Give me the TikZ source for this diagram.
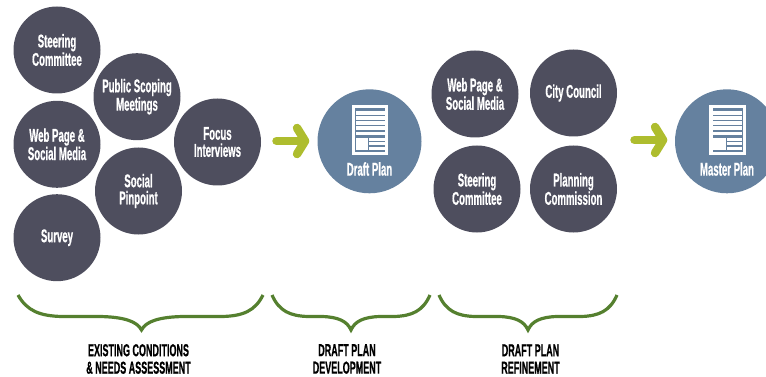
\documentclass[tikz,border=0pt]{standalone}
\usepackage{fontspec}
\setmainfont[FakeStretch=0.52,BoldFont={Liberation Sans Bold},BoldFeatures={FakeBold=0.6}]{Liberation Sans}
\usetikzlibrary{arrows.meta}
\definecolor{slatec}{HTML}{4E4E5E}
\definecolor{bluec}{HTML}{65819F}
\definecolor{limec}{HTML}{AEBD2E}
\definecolor{bracec}{HTML}{55802F}
\tikzset{
  x=1pt,y=-1pt,
  blob/.style={circle,fill=slatec,minimum size=87pt,inner sep=0pt,align=center,text=white,
    font=\fontsize{18.5}{17}\selectfont\bfseries},
  planblob/.style={circle,fill=bluec,minimum size=104pt,inner sep=0pt},
  planlabel/.style={text=white,inner sep=0pt,font=\fontsize{18.5}{17}\selectfont\bfseries},
  caplabel/.style={align=center,inner sep=0pt,text=black,font=\fontsize{17.3}{17.5}\selectfont\bfseries},
  flow/.style={draw=limec,line width=8.5pt,line cap=round,-{Straight Barb[round,length=8pt,width=26pt]}},
  bracket/.style={draw=bracec,line width=3.2pt,fill=none},
}
\newcommand{\docicon}[2]{%
  \begin{scope}[shift={(#1,#2)}]
    \fill[white] (-18.1,-25.7) rectangle (18.5,24.3);
    \fill[bluec] (-14.8,-22.4) rectangle (15.2,21.6);
    \fill[white] (-14.1,-19.7) rectangle (14.7,-15.7);
    \fill[white] (-14.1,-14.2) rectangle (14.7,-11.1);
    \fill[white] (-14.1,-9.7) rectangle (14.7,-5.7);
    \fill[white] (-14.1,-4.2) rectangle (14.7,-0.4);
    \fill[white] (-14.1,1.1) rectangle (14.7,4.3);
    \fill[white] (-14.1,7) rectangle (-1.5,19.3);
    \fill[white] (-0.5,7) rectangle (14.7,10);
    \fill[white] (-0.5,11.3) rectangle (14.7,14.3);
    \fill[white] (-0.5,16) rectangle (14.7,19.3);
  \end{scope}}
\begin{document}
\begin{tikzpicture}
\useasboundingbox (0,0) rectangle (766,377);
\node[blob] (steer) at (57,50) {Steering\\Committee};
\node[blob] (scoping) at (137,96.7) {Public Scoping\\Meetings};
\node[blob] (web) at (57,144.3) {Web Page \&\\Social Media};
\node[blob] (focus) at (217.5,142) {Focus\\Interviews};
\node[blob] (pinpoint) at (138.5,191) {Social\\Pinpoint};
\node[blob] (survey) at (57,237.7) {\raisebox{-1.5pt}{Survey}};
\node[blob] (web2) at (475,94) {Web Page \&\\Social Media};
\node[blob] (city) at (573.5,93) {\raisebox{-1.5pt}{City Council}};
\node[blob] (steer2) at (477,189) {Steering\\Committee};
\node[blob] (plan2) at (573.5,189) {Planning\\Commission};
\node[planblob] (draft) at (369.5,141.3) {};
\node[planblob] (master) at (727,141.3) {};
\docicon{369.8}{130.7}
\docicon{727.3}{130.7}
\node[planlabel] (draftl) at (369.5,169) {Draft Plan};
\node[planlabel] (masterl) at (727,169) {Master Plan};
\coordinate (a1s) at (276.5,141);
\coordinate (a1e) at (309.3,141);
\coordinate (a2s) at (634.5,140);
\coordinate (a2e) at (667.3,140);
\draw[flow] (a1s) -- (a1e);
\draw[flow] (a2s) -- (a2e);
\draw[bracket] (18,295) .. controls (27,311) and (40,316) .. (62,316.5) -- (100,316.5) .. controls (123,317) and (137,321) .. (141.5,330) .. controls (146,321) and (160,317) .. (183,316.5) -- (222,316.5) .. controls (243,316) and (255,311) .. (263,295);
\draw[bracket] (272,295) .. controls (279,311) and (290,316) .. (308,316.5) -- (322,316.5) .. controls (338,317) and (347,321) .. (351,330) .. controls (355,321) and (364,317) .. (380,316.5) -- (394,316.5) .. controls (412,316) and (423,311) .. (430,295);
\draw[bracket] (439,295) .. controls (446,311) and (457,316) .. (475,316.5) -- (499,316.5) .. controls (515,317) and (524,321) .. (528,330) .. controls (532,321) and (541,317) .. (557,316.5) -- (581,316.5) .. controls (599,316) and (610,311) .. (617,295);
\node[caplabel] (l1) at (138.5,359) {EXISTING CONDITIONS\\\&\ NEEDS ASSESSMENT};
\node[caplabel] (l2) at (347,359) {DRAFT PLAN\\DEVELOPMENT};
\node[caplabel] (l3) at (530.5,359) {DRAFT PLAN\\REFINEMENT};
\end{tikzpicture}
\end{document}
